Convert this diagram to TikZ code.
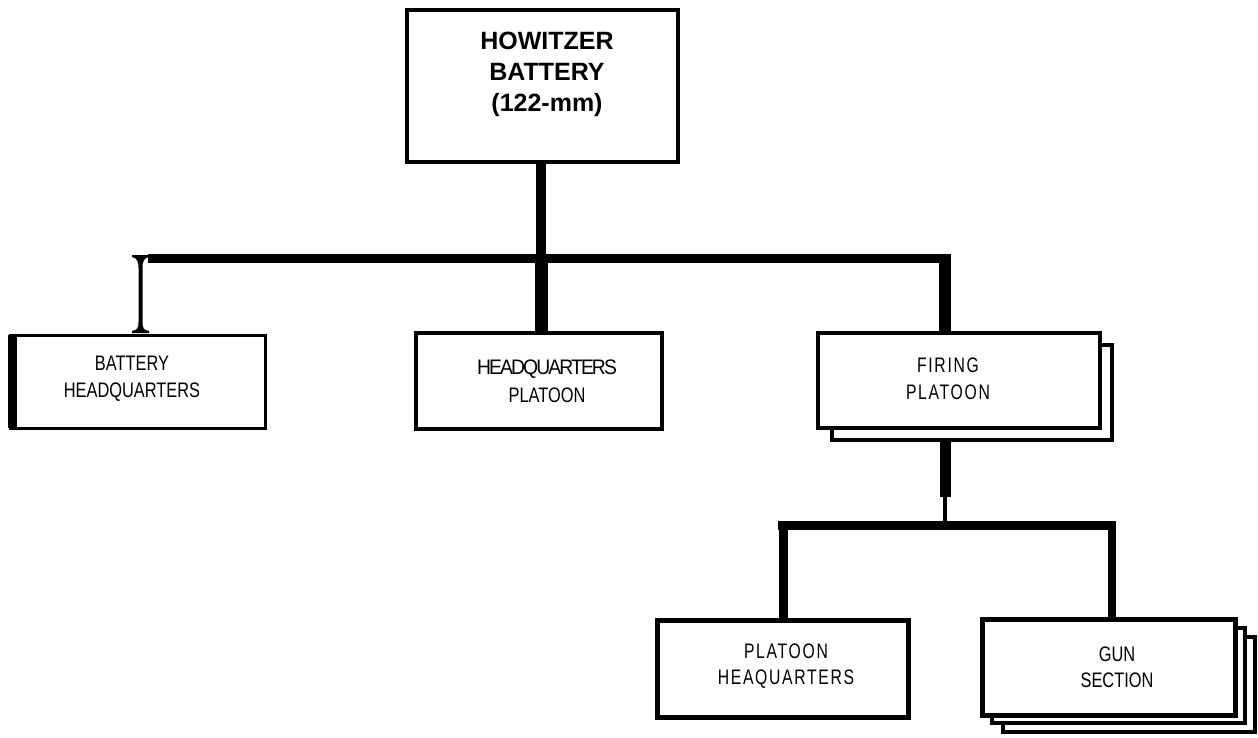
\documentclass[tikz,border=0pt]{standalone}
\usepackage{fontspec}
\setmainfont{Liberation Sans}
\newfontfamily\narrowf[FakeStretch=0.78]{Liberation Sans}
\newfontfamily\spacedf[FakeStretch=0.75,LetterSpace=8]{Liberation Sans}
\newfontfamily\tightf[FakeStretch=0.92,LetterSpace=-9]{Liberation Sans}
\usetikzlibrary{fit}
\begin{document}
\begin{tikzpicture}[x=1pt,y=-1pt,
  box/.style={draw=black, fill=white, line width=4pt, inner sep=0pt, outer sep=0pt},
  lbl/.style={align=center, inner sep=0pt, text=black},
  wire/.style={draw=black, line width=#1, line cap=butt},
  wire/.default=9pt]
\useasboundingbox[fill=white] (0,0) rectangle (1258,738);

% boxes
\node[box, fit={(407,10)(678,162)}] (top) {};
\node[box, line width=3pt, fit={(10,335)(265,428)}] (bhq) {};
\node[box, fit={(416,333)(662,429)}] (hqp) {};
\node[box, fit={(832,345)(1112,440)}] (fps) {};
\node[box, fit={(818,333)(1100,428)}] (fp) {};
\node[box, line width=5pt, fit={(657,620)(908,717)}] (plhq) {};
\node[box, fit={(1003,637)(1255,732)}] (gun2) {};
\node[box, fit={(992,628)(1245,723)}] (gun1) {};
\node[box, line width=5pt, fit={(982,619)(1235,715)}] (gun) {};

% thick left side of battery headquarters
\draw[wire] ([xshift=2.5pt]bhq.north west) -- ([xshift=2.5pt]bhq.south west);

% labels
\node[lbl, font=\fontsize{25}{31}\selectfont\bfseries] (topT) at (547,74) {HOWITZER\\BATTERY\\(122-mm)};
\node[lbl, font=\fontsize{21}{27}\selectfont\narrowf] (bhqT) at (132,379) {BATTERY\\HEADQUARTERS};
\node[lbl, font=\fontsize{21}{28}\selectfont] (hqpT) at (547,381) {{\tightf HEADQUARTERS}\\{\narrowf PLATOON}};
\node[lbl, font=\fontsize{21}{27}\selectfont\spacedf] (fpT) at (948,379) {FIRING\\PLATOON};
\node[lbl, font=\fontsize{21}{26}\selectfont\spacedf] (plhqT) at (786,666.5) {PLATOON\\HEAQUARTERS};
\node[lbl, font=\fontsize{21}{26}\selectfont\narrowf] (gunT) at (1117,667.5) {GUN\\SECTION};

% junctions
\coordinate (j1) at (541,258);
\coordinate (bL) at (148,258);
\coordinate (bR) at (951,258);
\coordinate (ic) at (140.5,256);
\coordinate (fx) at (945,258);
\coordinate (j2) at (945,525);
\coordinate (j2a) at (945,497);
\coordinate (l2L) at (778,525);
\coordinate (l2R) at (1116,525);
\coordinate (dL) at (783,525);
\coordinate (dR) at (1112,525);

% connectors
\draw[wire=10pt] (j1 |- top.south) -- (j1);
\draw[wire=13pt] (j1) -- (j1 |- hqp.north);
\draw[wire] (bL) -- (bR);
\draw[wire=12pt] ([yshift=-4.5pt]fx) -- (fx |- fp.north);
\begin{scope}[shift={(ic)}]
\fill[black] (-8.5,-1) -- (8.5,-1) -- (8.5,1) .. controls (3,2) and (2,6) .. (2,12)
  -- (2,66) .. controls (2,72) and (3,74) .. (8.5,75) -- (8.5,77) -- (-8.5,77)
  -- (-8.5,75) .. controls (-3,74) and (-2,72) .. (-2,66) -- (-2,12)
  .. controls (-2,6) and (-3,2) .. (-8.5,1) -- cycle;
\end{scope}
\draw[wire=11pt] (j2a |- fps.south) -- (j2a);
\draw[wire=4.5pt] (j2a) -- ([yshift=-4pt]j2);
\draw[wire] (l2L) -- (l2R);
\draw[wire] ([yshift=-4.5pt]dL) -- (dL |- plhq.north);
\draw[wire=8pt] ([yshift=-4.5pt]dR) -- (dR |- gun.north);
\end{tikzpicture}
\end{document}
